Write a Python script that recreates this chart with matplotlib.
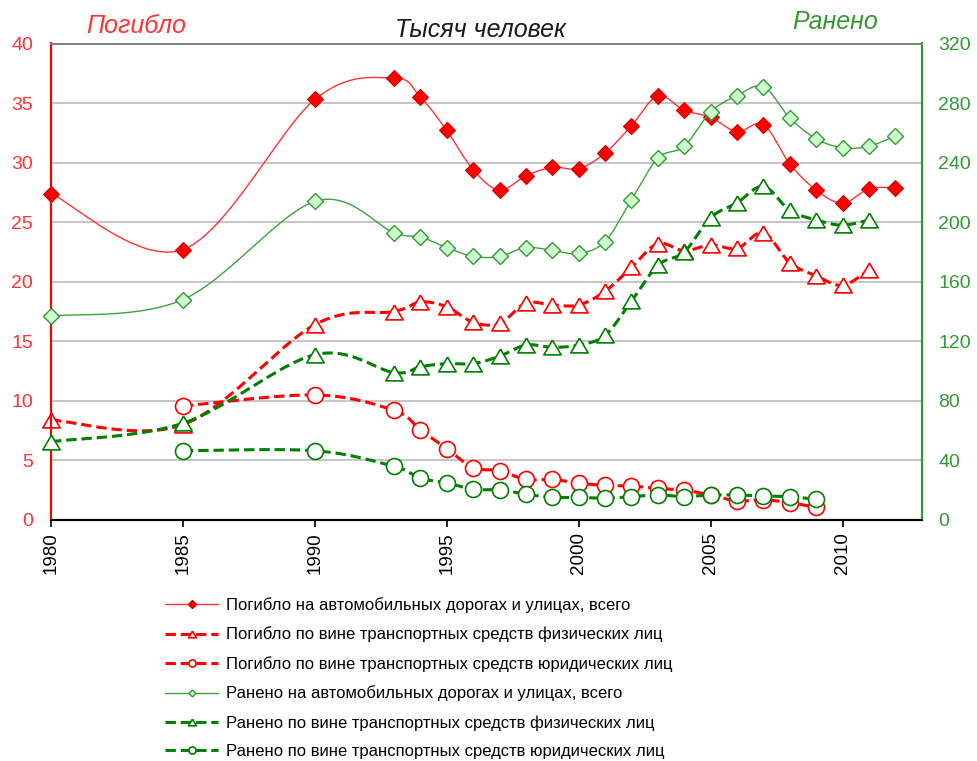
import numpy as np
import matplotlib
matplotlib.use("Agg")
import matplotlib.pyplot as plt
from matplotlib.lines import Line2D

plt.rcParams['font.family'] = ['Liberation Sans', 'DejaVu Sans']

years_all = [1980, 1985, 1990, 1993, 1994, 1995, 1996, 1997, 1998, 1999, 2000,
             2001, 2002, 2003, 2004, 2005, 2006, 2007, 2008, 2009, 2010, 2011, 2012]
killed_total = [27.4, 22.7, 35.3, 37.1, 35.5, 32.7, 29.4, 27.7, 28.9, 29.6, 29.5,
                30.8, 33.1, 35.6, 34.4, 33.8, 32.6, 33.2, 29.9, 27.7, 26.6, 27.8, 27.9]
injured_total = [137, 148, 214, 193, 190, 183, 177, 177, 183, 181, 179,
                 187, 215, 243, 251, 274, 285, 291, 270, 256, 250, 251, 258]

years_phys = [1980, 1985, 1990, 1993, 1994, 1995, 1996, 1997, 1998, 1999, 2000,
              2001, 2002, 2003, 2004, 2005, 2006, 2007, 2008, 2009, 2010, 2011]
killed_phys = [8.4, 8.0, 16.4, 17.5, 18.3, 17.9, 16.6, 16.5, 18.2, 18.05, 18.05,
               19.2, 21.2, 23.2, 22.6, 23.1, 22.8, 24.1, 21.6, 20.5, 19.7, 21.0]
injured_phys = [52.6, 65, 111, 99, 103, 105, 105, 110, 117.5, 116, 117.5,
                124, 147, 171, 180, 203, 213, 224, 208, 201.5, 198, 201.5]

years_jur = [1985, 1990, 1993, 1994, 1995, 1996, 1997, 1998, 1999, 2000,
             2001, 2002, 2003, 2004, 2005, 2006, 2007, 2008, 2009]
killed_jur = [9.57, 10.5, 9.2, 7.56, 6.0, 4.4, 4.14, 3.4, 3.4, 3.1,
              2.9, 2.85, 2.65, 2.5, 2.1, 1.6, 1.7, 1.45, 1.07]
injured_jur = [46.5, 46.5, 36, 28, 25, 20.6, 20.2, 17.3, 15.2, 15.2,
               14.6, 15.7, 16.8, 15.7, 16.8, 16.8, 16.1, 15.7, 13.9]

labels = [
    "Погибло на автомобильных дорогах и улицах, всего",
    "Погибло по вине транспортных средств физических лиц",
    "Погибло по вине транспортных средств юридических лиц",
    "Ранено на автомобильных дорогах и улицах, всего",
    "Ранено по вине транспортных средств физических лиц",
    "Ранено по вине транспортных средств юридических лиц",
]
left_ticks = [0, 5, 10, 15, 20, 25, 30, 35, 40]
right_ticks = [0, 40, 80, 120, 160, 200, 240, 280, 320]
x_ticks = [1980, 1985, 1990, 1995, 2000, 2005, 2010]


def smooth(x, y, n=24):
    """Excel-style smoothed line (cubic Bezier, Catmull-Rom control points)."""
    P = np.column_stack([np.asarray(x, float), np.asarray(y, float)])
    Q = np.vstack([P[0], P, P[-1]])
    out = [P[:1]]
    t = np.linspace(0, 1, n)[1:, None]
    for i in range(len(P) - 1):
        p0, p1, p2, p3 = Q[i], Q[i + 1], Q[i + 2], Q[i + 3]
        b0 = p1
        b1 = p1 + (p2 - p0) / 6.0
        b2 = p2 - (p3 - p1) / 6.0
        b3 = p2
        seg = ((1 - t) ** 3) * b0 + 3 * ((1 - t) ** 2) * t * b1 + 3 * (1 - t) * t ** 2 * b2 + t ** 3 * b3
        out.append(seg)
    S = np.vstack(out)
    return S[:, 0], S[:, 1]


RED = '#FF0000'
RED_L = '#FF3333'
GREEN = '#008000'
GREEN_L = '#3DA33D'
GREEN_AX = '#339933'

TRI = [(0, 0.85), (-1, -0.85), (1, -0.85), (0, 0.85)]

fig = plt.figure(figsize=(9.77, 7.61), dpi=100)
ax = fig.add_axes([51 / 977, 1 - 520 / 761, (921.7 - 51) / 977, (520 - 43.5) / 761])
ax2 = ax.twinx()

dash = (0, (3.4, 1.6))


def series(a, x, y, color, lw, ls, marker, ms, mfc, mec, mew, z):
    sx, sy = smooth(x, y)
    a.plot(sx, sy, color=color, lw=lw, linestyle=ls, zorder=z, solid_capstyle='butt')
    a.plot(x, y, linestyle='none', marker=marker, ms=ms, mfc=mfc, mec=mec, mew=mew,
           zorder=z + 0.5, clip_on=False)


series(ax, years_all, killed_total, RED_L, 1.0, '-', 'D', 8.5, RED, '#CC0000', 0.8, 3)
series(ax, years_phys, killed_phys, RED, 2.2, dash, TRI, 12.5, 'white', RED, 1.2, 3)
series(ax, years_jur, killed_jur, RED, 2.2, dash, 'o', 11.5, 'white', RED, 1.2, 3)
series(ax2, years_all, injured_total, GREEN_L, 1.0, '-', 'D', 7.8, '#CCFFCC', GREEN_AX, 1.0, 3)
series(ax2, years_phys, injured_phys, GREEN, 2.2, dash, TRI, 12.5, 'white', GREEN, 1.2, 3)
series(ax2, years_jur, injured_jur, GREEN, 2.2, dash, 'o', 11.5, 'white', GREEN, 1.2, 3)

ax.set_xlim(1980, 2013)
ax.set_ylim(0, 40)
ax2.set_ylim(0, 320)
ax.set_yticks(left_ticks)
ax2.set_yticks(right_ticks)
ax.set_xticks(x_ticks)
ax.set_xticklabels([str(v) for v in x_ticks], rotation=90, fontsize=13.5)
ax.tick_params(axis='x', length=5, width=1.2, color='black', pad=4, direction='out')
ax.tick_params(axis='y', length=0, pad=13, labelsize=14, labelcolor=RED_L)
ax2.tick_params(axis='y', length=0, pad=12, labelsize=14, labelcolor=GREEN_AX)

ax.grid(axis='y', color='#C0C0C0', lw=1.3)
ax.set_axisbelow(True)
for a in (ax, ax2):
    a.spines['top'].set_color('#808080')
    a.spines['top'].set_linewidth(1.3)
    a.spines['bottom'].set_color('black')
    a.spines['bottom'].set_linewidth(1.5)
    a.spines['left'].set_color(RED)
    a.spines['left'].set_linewidth(1.5)
    a.spines['right'].set_color(GREEN_AX)
    a.spines['right'].set_linewidth(1.5)

fig.text(136 / 977, 1 - 26 / 761, "Погибло", color=RED_L, fontsize=18, style='italic',
         ha='center', va='center')
fig.text(480 / 977, 1 - 30 / 761, "Тысяч человек", color='#1a1a1a', fontsize=18, style='italic',
         ha='center', va='center')
fig.text(835 / 977, 1 - 22 / 761, "Ранено", color=GREEN_AX, fontsize=18, style='italic',
         ha='center', va='center')

handles = [
    Line2D([], [], color=RED_L, lw=1.0, marker='D', ms=8.5, mfc=RED, mec='#CC0000'),
    Line2D([], [], color=RED, lw=2.2, linestyle=dash, marker=TRI, ms=12.5, mfc='white', mec=RED, mew=1.2),
    Line2D([], [], color=RED, lw=2.2, linestyle=dash, marker='o', ms=11.5, mfc='white', mec=RED, mew=1.2),
    Line2D([], [], color=GREEN_L, lw=1.0, marker='D', ms=7.8, mfc='#CCFFCC', mec=GREEN_AX),
    Line2D([], [], color=GREEN, lw=2.2, linestyle=dash, marker=TRI, ms=12.5, mfc='white', mec=GREEN, mew=1.2),
    Line2D([], [], color=GREEN, lw=2.2, linestyle=dash, marker='o', ms=11.5, mfc='white', mec=GREEN, mew=1.2),
]
fig.legend(handles, labels, loc='upper left', bbox_to_anchor=(165 / 977, 1 - 597 / 761),
           frameon=False, fontsize=12, handlelength=3.2, handletextpad=0.45,
           labelspacing=0.82, borderpad=0, borderaxespad=0, markerscale=0.45)

fig.savefig('out.png', dpi=100)
